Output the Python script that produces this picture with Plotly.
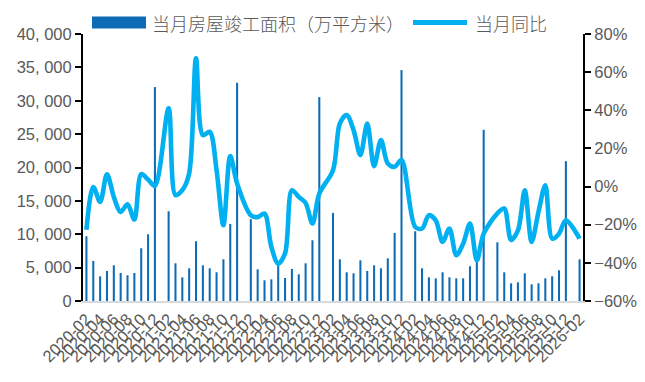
import plotly.graph_objects as go

# ---------------- data ----------------
months = []
for yr in range(2020, 2027):
    for m in range(1, 13):
        if (yr == 2020 and m < 2) or (yr == 2026 and m > 2):
            continue
        months.append(f"{yr}-{m:02d}")

# 当月房屋竣工面积（万平方米）; January has no separate figure (None)
area = [
    9700, 6000, 3700, 4500, 5350, 4200, 3850, 4200, 7900, 10000, 32050,          # 2020-02..12
    None, 13450, 5650, 3550, 4900, 8950, 5350, 4900, 4300, 6250, 11550, 32700,   # 2021
    None, 12250, 4750, 3100, 3250, 5500, 3450, 4800, 4000, 5650, 9100, 30550,    # 2022
    None, 13200, 6250, 4300, 4150, 6100, 4500, 5350, 4900, 6400, 10200, 34600,   # 2023
    None, 10450, 4900, 3550, 3400, 4300, 3550, 3400, 3400, 5200, 6000, 25650,    # 2024
    None, 8800, 4300, 2650, 2800, 4150, 2500, 2650, 3400, 3700, 4600, 20950,     # 2025
    None, 6250,                                                                  # 2026
]

# 当月同比 (%)
yoy = [
    -22.6, -0.2, -8.0, 6.5, -5.4, -13.3, -9.3, -17.3, 6.5, 3.7, 0.4,
    None, 41.0, -4.5, -1.9, 6.9, 67.2, 27.0, 28.7, 8.6, -20.3, 16.0, 1.6,
    None, -15.0, -16.0, -14.2, -31.7, -40.4, -35.0, -1.9, -5.4, -8.6, -19.4, -3.7,
    None, 8.6, 33.1, 37.5, 29.6, 16.5, 33.0, 10.7, 24.4, 12.1, 10.4, 13.9,
    None, -21.2, -22.0, -15.0, -17.7, -29.0, -22.0, -36.0, -29.9, -19.4, -38.7, -24.7,
    None, -14.0, -11.5, -28.0, -23.0, -1.9, -29.0, -13.3, 0.7, -27.3, -24.7, -17.7,
    None, -27.3,
]

left_ticks = list(range(0, 40001, 5000))
left_ticktext = [f"{v:,}".replace(",", ", ") for v in left_ticks]
x_ticks = months[::2]

bar_name = "当月房屋竣工面积（万平方米）"
line_name = "当月同比"

BAR_COLOR = "#0E6CB6"
LINE_COLOR = "#00B0F0"
TXT = "#595959"

# ---------------- layout geometry ----------------
# the page body has an 8px margin, so the figure starts at (8, 8) in the window
OFF = 8
W, H = 645 - OFF, 382 - OFF
L, R, T, B = 83 - OFF, 62, 34 - OFF, 81
pw, ph = W - L - R, H - T - B


def px_x(px):  # window pixel -> paper
    return (px - OFF - L) / pw


def px_y(py):
    return (H - B - (py - OFF)) / ph


fig = go.Figure()
fig.add_trace(go.Bar(x=months, y=area, name=bar_name, marker_color=BAR_COLOR,
                     marker_line_width=0, yaxis="y", showlegend=False))
fig.add_trace(go.Scatter(x=months, y=yoy, name=line_name, mode="lines",
                         line=dict(color=LINE_COLOR, width=4.6, shape="spline", smoothing=0.9),
                         connectgaps=True, yaxis="y2", showlegend=False))

tick_font = dict(family="Liberation Sans, Arial, sans-serif", size=16.5, color=TXT)

fig.update_layout(
    width=W, height=H,
    margin=dict(l=L, r=R, t=T, b=B, autoexpand=False),
    paper_bgcolor="white", plot_bgcolor="white",
    bargap=0.7,
    xaxis=dict(type="category", categoryorder="array", categoryarray=months,
               tickmode="array", tickvals=x_ticks, tickangle=-45,
               tickfont=tick_font, showgrid=False, zeroline=False,
               showline=True, linecolor="#D9D9D9", linewidth=2,
               ticks="", automargin=False),
    yaxis=dict(range=[0, 40000], tickmode="array", tickvals=left_ticks,
               ticktext=left_ticktext, tickfont=tick_font,
               showgrid=False, zeroline=False, showline=True,
               linecolor="black", linewidth=2, ticks="outside",
               ticklen=6, tickwidth=2, tickcolor="black", automargin=False),
    yaxis2=dict(range=[-60, 80], dtick=20, tick0=0, ticksuffix="%",
                overlaying="y", side="right", tickfont=tick_font,
                showgrid=False, zeroline=False, showline=True,
                linecolor="black", linewidth=2, ticks="outside",
                ticklen=6, tickwidth=2, tickcolor="black", automargin=False),
    showlegend=False,
)

# ---------------- legend (drawn) ----------------
leg_y = 22.5
fig.add_shape(type="rect", xref="paper", yref="paper",
              x0=px_x(92), x1=px_x(146), y0=px_y(28.5), y1=px_y(16.5),
              fillcolor=BAR_COLOR, line_width=0)
fig.add_shape(type="line", xref="paper", yref="paper",
              x0=px_x(413), x1=px_x(467), y0=px_y(leg_y), y1=px_y(leg_y),
              line=dict(color=LINE_COLOR, width=5))
leg_font = dict(family="Noto Sans CJK SC", size=18, color=TXT, weight=300)
fig.add_annotation(text=bar_name, xref="paper", yref="paper", x=px_x(150), y=px_y(leg_y),
                   xanchor="left", yanchor="middle", showarrow=False, font=leg_font)
fig.add_annotation(text=line_name, xref="paper", yref="paper", x=px_x(473), y=px_y(leg_y),
                   xanchor="left", yanchor="middle", showarrow=False, font=leg_font)

fig.write_html("out.html")
